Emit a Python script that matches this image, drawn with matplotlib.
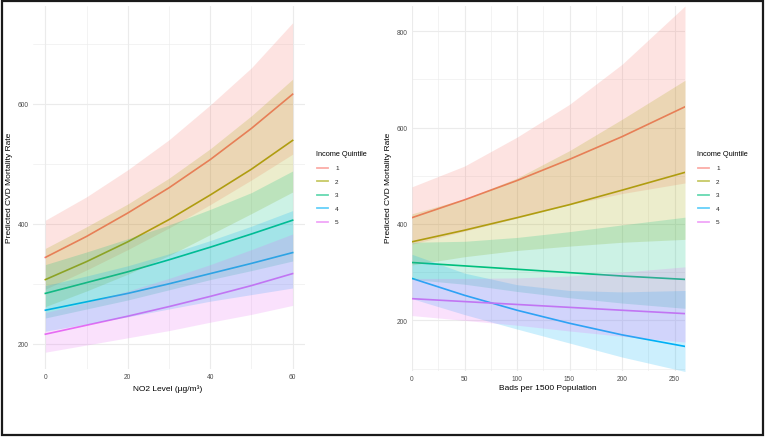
import numpy as np
import matplotlib
matplotlib.use("Agg")
import matplotlib.pyplot as plt
from matplotlib.lines import Line2D
from matplotlib.patches import Rectangle

plt.rcParams["font.family"] = ["Liberation Sans", "DejaVu Sans"]

QUINTILES = ["1", "2", "3", "4", "5"]
COLORS = ["#F8766D", "#A3A500", "#00BF7D", "#00B0F6", "#E76BF3"]

# left panel: NO2 level
no2 = [0, 10, 20, 30, 40, 50, 60]
no2_fit = [
    [344, 379, 418, 460, 507, 559, 616],
    [307, 337, 370, 407, 448, 491, 539],
    [284, 302, 320, 340, 361, 383, 406],
    [256, 270, 284, 300, 317, 334, 352],
    [216, 231, 246, 262, 279, 297, 317],
]
no2_lo = [
    [291, 323, 357, 393, 432, 473, 516],
    [262, 288, 316, 347, 382, 417, 453],
    [243, 258, 273, 290, 307, 322, 338],
    [221, 233, 245, 258, 271, 282, 293],
    [186, 198, 210, 222, 236, 249, 264],
]
no2_hi = [
    [406, 445, 490, 540, 598, 660, 735],
    [359, 395, 433, 476, 525, 580, 641],
    [332, 353, 375, 398, 424, 452, 488],
    [297, 313, 330, 350, 372, 396, 422],
    [252, 269, 288, 309, 332, 357, 383],
]

# right panel: beds per 1500 population
beds = [0, 50, 100, 150, 200, 260]
beds_fit = [
    [413, 450, 490, 534, 581, 643],
    [363, 387, 413, 440, 470, 507],
    [320, 313, 306, 299, 292, 285],
    [287, 252, 221, 194, 170, 146],
    [245, 239, 233, 227, 221, 214],
]
beds_lo = [
    [358, 385, 412, 440, 463, 485],
    [315, 332, 345, 354, 362, 368],
    [285, 275, 260, 247, 236, 225],
    [245, 212, 182, 153, 124, 94],
    [210, 200, 190, 178, 167, 155],
]
beds_hi = [
    [477, 520, 580, 648, 731, 852],
    [421, 452, 495, 552, 617, 698],
    [362, 364, 372, 384, 398, 414],
    [337, 298, 274, 262, 259, 262],
    [287, 287, 288, 292, 300, 311],
]

W, H = 765, 439
fig = plt.figure(figsize=(W / 100, H / 100), dpi=100, facecolor="white")

GRID = "#EBEBEB"
TICK = "#4D4D4D"


def px_axes(x0, y0, x1, y1):
    return fig.add_axes([x0 / W, 1 - y1 / H, (x1 - x0) / W, (y1 - y0) / H])


def style(ax, xmaj, xmin, ymaj, ymin):
    ax.set_facecolor("white")
    for s in ax.spines.values():
        s.set_visible(False)
    ax.set_xticks(xmaj)
    ax.set_xticks(xmin, minor=True)
    ax.set_yticks(ymaj)
    ax.set_yticks(ymin, minor=True)
    ax.grid(True, which="major", color=GRID, linewidth=0.8)
    ax.grid(True, which="minor", color=GRID, linewidth=0.4)
    ax.set_axisbelow(True)
    ax.tick_params(which="both", length=0, labelsize=4.8, labelcolor=TICK, pad=3.2)


def draw(ax, x, fits, los, his):
    for fit, c in zip(fits, COLORS):
        ax.plot(x, fit, color=c, linewidth=1.2, zorder=2)
    for lo, hi, c in zip(los, his, COLORS):
        ax.fill_between(x, lo, hi, color=c, alpha=0.2, linewidth=0, zorder=3)


def legend(x, y):
    fig.text(x / W, 1 - y / H, "Income Quintile", fontsize=5.3, ha="left", va="center")
    for i, (q, c) in enumerate(zip(QUINTILES, COLORS)):
        yy = 1 - (169 + i * 13.4) / H
        fig.add_artist(Line2D([(x + 1) / W, (x + 12) / W], [yy, yy], color=c,
                              linewidth=1.3, alpha=0.6, transform=fig.transFigure))
        fig.text((x + 19) / W, yy, q, fontsize=4.6, color="#222222", ha="left", va="center")


# left panel
ax1 = px_axes(33, 7, 305, 370)
draw(ax1, no2, no2_fit, no2_lo, no2_hi)
ax1.set_xlim(-3, 63)
ax1.set_ylim(158, 763)
style(ax1, [0, 20, 40, 60], [10, 30, 50], [200, 400, 600], [300, 500, 700])
fig.text(168 / W, 1 - 389 / H, "NO2 Level (µg/m³)", fontsize=6, ha="center", va="center")
fig.text(10 / W, 1 - 188 / H, "Predicted CVD Mortality Rate", fontsize=6,
         rotation=90, ha="center", va="center")
legend(316, 155)

# right panel
ax2 = px_axes(412, 7, 685, 372)
draw(ax2, beds, beds_fit, beds_lo, beds_hi)
ax2.set_xlim(0, 260)
ax2.set_ylim(95, 852)
style(ax2, [0, 50, 100, 150, 200, 250], [25, 75, 125, 175, 225],
      [200, 400, 600, 800], [100, 300, 500, 700])
fig.text(548 / W, 1 - 389 / H, "Bads per 1500 Population", fontsize=6, ha="center", va="center")
fig.text(388 / W, 1 - 188 / H, "Predicted CVD Mortality Rate", fontsize=6,
         rotation=90, ha="center", va="center")
legend(697, 155)

# outer frame
fig.add_artist(Rectangle((2 / W, 3 / H), 761 / W, 434 / H, transform=fig.transFigure,
                         fill=False, edgecolor="#1a1a1a", linewidth=1.6))

fig.savefig("out.png", dpi=100, facecolor="white")
